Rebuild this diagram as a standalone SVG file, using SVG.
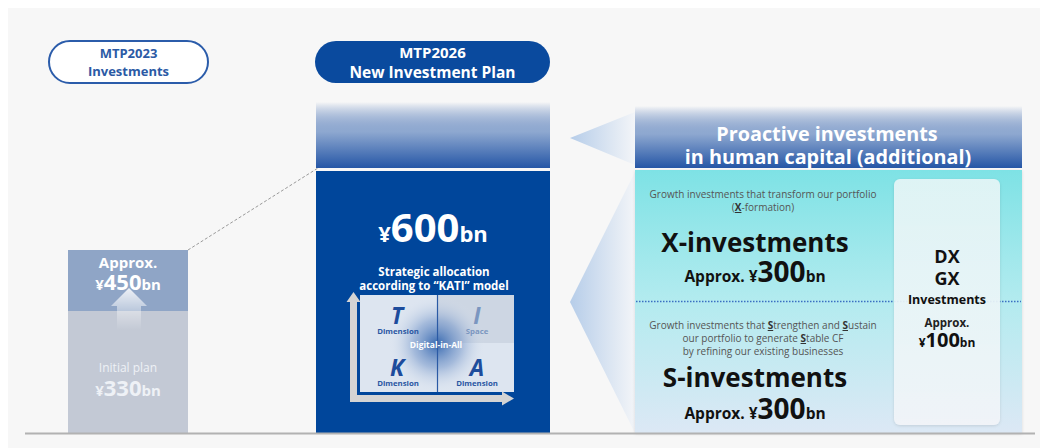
<svg xmlns="http://www.w3.org/2000/svg" width="1040" height="448" viewBox="0 0 1040 448">
<defs>
<style>
text{font-family:"Open Sans","Noto Sans","Liberation Sans",sans-serif;}
.b{font-weight:700;}
.w{fill:#ffffff;}
.mid{text-anchor:middle;}
.desc{font-size:10px;fill:#555555;text-anchor:middle;}
.big{font-size:26px;font-weight:700;fill:#111111;text-anchor:middle;}
.kl{font-size:23px;font-weight:700;font-style:italic;fill:#1d4c9c;text-anchor:middle;}
.kd{font-size:7.8px;font-weight:700;fill:#2a57a3;text-anchor:middle;}
.u{text-decoration:underline;font-weight:700;fill:#333333;}
</style>
<linearGradient id="hdr" x1="0" y1="0" x2="0" y2="1">
<stop offset="0" stop-color="#2a5aa8" stop-opacity="0"/>
<stop offset="0.45" stop-color="#8ea8d0"/>
<stop offset="1" stop-color="#2556a6"/>
</linearGradient>
<linearGradient id="tri" x1="0" y1="0" x2="1" y2="0">
<stop offset="0" stop-color="#b6cde9"/>
<stop offset="1" stop-color="#f3f5f8"/>
</linearGradient>
<linearGradient id="rp" x1="0" y1="0" x2="0" y2="1">
<stop offset="0" stop-color="#7ee2e5"/>
<stop offset="0.5" stop-color="#b3ebef"/>
<stop offset="1" stop-color="#dce8f5"/>
</linearGradient>
<linearGradient id="dxg" x1="0" y1="0" x2="0" y2="1">
<stop offset="0" stop-color="#e6f6f7"/>
<stop offset="1" stop-color="#f2f5f9"/>
</linearGradient>
<linearGradient id="up" x1="0" y1="0" x2="0" y2="1">
<stop offset="0" stop-color="#ffffff" stop-opacity="0.85"/>
<stop offset="1" stop-color="#ffffff" stop-opacity="0"/>
</linearGradient>
<radialGradient id="glow" cx="437" cy="344" r="48" gradientUnits="userSpaceOnUse">
<stop offset="0" stop-color="#2f63ad" stop-opacity="0.95"/>
<stop offset="0.5" stop-color="#6b8fc6" stop-opacity="0.5"/>
<stop offset="1" stop-color="#dde5f0" stop-opacity="0"/>
</radialGradient>
<filter id="sh" x="-10%" y="-10%" width="120%" height="120%">
<feDropShadow dx="0" dy="1" stdDeviation="1.5" flood-color="#000000" flood-opacity="0.12"/>
</filter>
</defs>

<rect x="0" y="0" width="1040" height="448" fill="#ffffff"/>
<rect x="8" y="8" width="1032" height="440" fill="#f7f7f7"/>

<g id="connectors">
<line x1="188" y1="250" x2="318" y2="168" stroke="#9a9a9a" stroke-width="1" stroke-dasharray="3 2"/>
</g>

<g id="mtp2023-label">
<rect x="49" y="41" width="159" height="42" rx="21" fill="#ffffff" stroke="#2b5caa" stroke-width="2"/>
<text class="b mid" x="128.5" y="58" font-size="13" fill="#2b5aa5">MTP2023</text>
<text class="b mid" x="128.5" y="76" font-size="13" fill="#2b5aa5">Investments</text>
</g>

<g id="mtp2023-bar">
<rect x="68" y="311" width="120" height="122" fill="#c3c9d5"/>
<rect x="68" y="250" width="120" height="61" fill="#8fa5c6"/>
<polygon points="129,288 147,306 141,306 141,330 117,330 117,306 111,306" fill="url(#up)"/>
<text class="b w mid" x="128" y="268" font-size="15">Approx.</text>
<text class="b w mid" x="128" y="290"><tspan font-size="15">¥</tspan><tspan font-size="22">450</tspan><tspan font-size="15">bn</tspan></text>
<text class="mid" x="128" y="372" font-size="12" fill="#eef1f6">Initial plan</text>
<text class="b mid" x="128" y="396" fill="#eef1f6"><tspan font-size="15">¥</tspan><tspan font-size="22">330</tspan><tspan font-size="15">bn</tspan></text>
</g>

<g id="mtp2026-label">
<rect x="315" y="41" width="235" height="42" rx="21" fill="#0a4a9e"/>
<text class="b w mid" x="432.5" y="58" font-size="15">MTP2026</text>
<text class="b w mid" x="432.5" y="78" font-size="15.5">New Investment Plan</text>
</g>

<g id="mtp2026-panel">
<rect x="316" y="102" width="234" height="66" fill="url(#hdr)"/>
<rect x="316" y="171" width="234" height="262" fill="#00469b"/>
<text class="b w mid" x="433" y="242"><tspan font-size="22">¥</tspan><tspan font-size="40">600</tspan><tspan font-size="22">bn</tspan></text>
<text class="b w mid" x="434" y="276" font-size="11.5">Strategic allocation</text>
<text class="b w mid" x="434" y="290" font-size="11.5">according to “KATI” model</text>
</g>

<g id="kati-model">
<rect x="360" y="295" width="154" height="97" fill="#dde5f0"/>
<rect x="438" y="295" width="76" height="48" fill="#cdd6e3"/>
<rect x="360" y="295" width="154" height="97" fill="url(#glow)"/>
<line x1="437.5" y1="295" x2="437.5" y2="392" stroke="#2b5aa5" stroke-width="1.2"/>
<path d="M350,402 L350,302 L346.5,302 L353.5,292 L360.5,302 L357,302 L357,395 L502,395 L502,391.5 L514,398.5 L502,405.5 L502,402 Z" fill="#d4d4d4"/>
<text class="kl" x="397" y="324">T</text>
<text class="kd" x="398" y="334">Dimension</text>
<text class="kl" x="477" y="324" style="fill:#7b96c0">I</text>
<text class="kd" x="477" y="334" style="fill:#7b96c0">Space</text>
<text class="b w mid" x="436" y="348" font-size="8.5">Digital-in-All</text>
<text class="kl" x="397" y="376">K</text>
<text class="kd" x="398" y="386">Dimension</text>
<text class="kl" x="477" y="376">A</text>
<text class="kd" x="477" y="386">Dimension</text>
</g>

<g id="pointers">
<polygon points="570,138 635,112 635,165" fill="url(#tri)"/>
<polygon points="570,302 635,172 635,433" fill="url(#tri)"/>
</g>

<g id="human-capital-panel">
<rect x="635" y="106" width="387" height="62" fill="url(#hdr)"/>
<rect x="635" y="170" width="387" height="263" fill="url(#rp)" filter="url(#sh)"/>
<text class="b w mid" x="827" y="141" font-size="19.8">Proactive investments</text>
<text class="b w mid" x="828" y="164" font-size="19.8">in human capital (additional)</text>
<line x1="636" y1="301.5" x2="1021" y2="301.5" stroke="#3b6fc2" stroke-width="1.3" stroke-dasharray="1.5 1.5"/>
</g>

<g id="x-investments">
<text class="desc" x="763" y="198">Growth investments that transform our portfolio</text>
<text class="desc" x="763" y="211">(<tspan class="u">X</tspan>-formation)</text>
<text class="big" x="755" y="252">X-investments</text>
<text class="b mid" x="755" y="282" fill="#111111"><tspan font-size="15.5">Approx. ¥</tspan><tspan font-size="28">300</tspan><tspan font-size="15.5">bn</tspan></text>
</g>

<g id="s-investments">
<text class="desc" x="763" y="329">Growth investments that <tspan class="u">S</tspan>trengthen and <tspan class="u">S</tspan>ustain</text>
<text class="desc" x="763" y="342">our portfolio to generate <tspan class="u">S</tspan>table CF</text>
<text class="desc" x="763" y="355">by refining our existing businesses</text>
<text class="big" x="755" y="387">S-investments</text>
<text class="b mid" x="755" y="419" fill="#111111"><tspan font-size="15.5">Approx. ¥</tspan><tspan font-size="28">300</tspan><tspan font-size="15.5">bn</tspan></text>
</g>

<g id="dx-gx">
<rect x="894" y="179" width="106" height="246" rx="6" fill="url(#dxg)" fill-opacity="0.92" filter="url(#sh)"/>
<text class="b mid" x="947" y="263" font-size="18" fill="#111111">DX</text>
<text class="b mid" x="947" y="285" font-size="18" fill="#111111">GX</text>
<text class="b mid" x="947" y="304" font-size="12.5" fill="#111111">Investments</text>
<text class="b mid" x="947" y="327" font-size="11.5" fill="#222222">Approx.</text>
<text class="b mid" x="947" y="347" fill="#111111"><tspan font-size="12">¥</tspan><tspan font-size="20">100</tspan><tspan font-size="12">bn</tspan></text>
</g>

<line x1="25" y1="433.5" x2="1035" y2="433.5" stroke="#b2b2b2" stroke-width="2"/>
</svg>
